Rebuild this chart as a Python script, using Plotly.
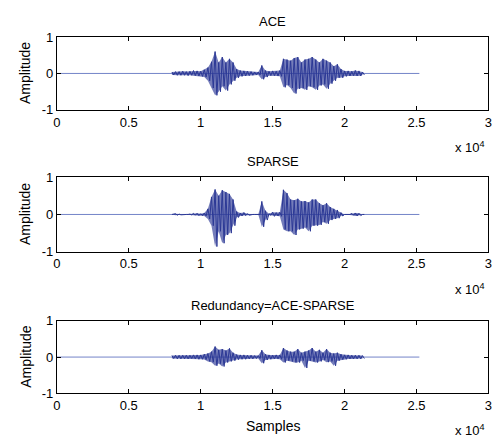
import plotly.graph_objects as go

# ---- data ----
# envelope bins: start sample of each 250-sample bin
bin_start = list(range(8000, 21500, 250))  # 54 bins
signal_end = 25200

ace_max = [0.04, 0.05, 0.05, 0.06, 0.05, 0.06, 0.08, 0.07, 0.06, 0.10,
           0.16, 0.32, 0.60, 0.30, 0.45, 0.30, 0.40, 0.30, 0.12, 0.08,
           0.07, 0.06, 0.05, 0.04, 0.04, 0.22, 0.08, 0.06, 0.07, 0.06,
           0.08, 0.40, 0.38, 0.35, 0.42, 0.45, 0.30, 0.38, 0.40, 0.45,
           0.38, 0.30, 0.40, 0.35, 0.30, 0.20, 0.25, 0.12, 0.07, 0.07,
           0.06, 0.08, 0.07, 0.04]
ace_min = [-0.04, -0.05, -0.05, -0.05, -0.06, -0.05, -0.06, -0.07, -0.08, -0.10,
           -0.20, -0.40, -0.60, -0.50, -0.35, -0.47, -0.30, -0.20, -0.12, -0.08,
           -0.07, -0.06, -0.05, -0.04, -0.04, -0.16, -0.10, -0.06, -0.06, -0.07,
           -0.08, -0.38, -0.32, -0.40, -0.55, -0.42, -0.40, -0.45, -0.35, -0.38,
           -0.45, -0.33, -0.30, -0.42, -0.28, -0.20, -0.12, -0.12, -0.08, -0.07,
           -0.06, -0.07, -0.07, -0.04]

sparse_max = [0.00, 0.02, 0.01, 0.00, 0.00, 0.01, 0.03, 0.03, 0.02, 0.04,
              0.15, 0.47, 0.67, 0.50, 0.65, 0.60, 0.55, 0.40, 0.08, 0.04,
              0.05, 0.02, 0.00, 0.00, 0.00, 0.35, 0.10, 0.02, 0.06, 0.05,
              0.06, 0.66, 0.57, 0.40, 0.38, 0.42, 0.35, 0.36, 0.32, 0.40,
              0.40, 0.30, 0.25, 0.30, 0.20, 0.15, 0.12, 0.05, 0.00, 0.00,
              0.03, 0.04, 0.03, 0.00]
sparse_min = [0.00, -0.02, -0.01, 0.00, 0.00, -0.01, -0.02, -0.03, -0.03, -0.04,
              -0.12, -0.30, -0.86, -0.45, -0.77, -0.55, -0.50, -0.30, -0.08, -0.04,
              -0.03, -0.02, 0.00, 0.00, 0.00, -0.33, -0.15, -0.02, -0.05, -0.04,
              -0.05, -0.40, -0.45, -0.45, -0.55, -0.40, -0.38, -0.35, -0.45, -0.30,
              -0.30, -0.28, -0.20, -0.25, -0.15, -0.12, -0.10, -0.04, 0.00, 0.00,
              -0.02, -0.04, -0.03, 0.00]

red_max = [0.04, 0.05, 0.05, 0.05, 0.05, 0.05, 0.06, 0.06, 0.06, 0.08,
           0.10, 0.15, 0.29, 0.20, 0.22, 0.18, 0.24, 0.12, 0.07, 0.06,
           0.06, 0.05, 0.05, 0.04, 0.04, 0.19, 0.08, 0.06, 0.05, 0.06,
           0.06, 0.25, 0.18, 0.15, 0.15, 0.22, 0.12, 0.15, 0.18, 0.25,
           0.15, 0.20, 0.12, 0.22, 0.12, 0.10, 0.12, 0.08, 0.06, 0.06,
           0.05, 0.05, 0.05, 0.04]
red_min = [-0.04, -0.05, -0.05, -0.05, -0.05, -0.04, -0.05, -0.06, -0.06, -0.07,
           -0.12, -0.14, -0.24, -0.18, -0.26, -0.15, -0.12, -0.10, -0.07, -0.06,
           -0.06, -0.05, -0.05, -0.04, -0.04, -0.17, -0.08, -0.06, -0.05, -0.05,
           -0.06, -0.15, -0.10, -0.12, -0.15, -0.15, -0.10, -0.30, -0.10, -0.12,
           -0.15, -0.12, -0.08, -0.14, -0.12, -0.24, -0.10, -0.07, -0.06, -0.05,
           -0.05, -0.05, -0.05, -0.04]

titles = ["ACE", "SPARSE", "Redundancy=ACE-SPARSE"]
x_tickvals = [0, 5000, 10000, 15000, 20000, 25000, 30000]
x_ticktext = ["0", "0.5", "1", "1.5", "2", "2.5", "3"]
y_tickvals = [-1, 0, 1]
y_ticktext = ["-1", "0", "1"]

series = [(ace_max, ace_min), (sparse_max, sparse_min), (red_max, red_min)]

# ---- layout geometry (pixels of the target picture) ----
W, H = 500, 448
x_left, x_right = 53.7, 492.3
boxes = [(31.0, 106.5), (176.0, 253.3), (324.7, 399.7)]  # (top, bottom) px


def px(v):
    return v / W


def py(v):
    return 1 - v / H


WAVE = "#2b3895"
FILL = "rgba(43,56,149,0.65)"
FLAT = "#7384c8"
FONT = "Liberation Sans, Arial, Helvetica, sans-serif"

fig = go.Figure()
layout = dict(
    width=W, height=H, margin=dict(l=0, r=0, t=0, b=0),
    paper_bgcolor="white", plot_bgcolor="white", showlegend=False,
    font=dict(family=FONT, size=13, color="black"),
)
annotations = []

for i, ((mx, mn), (top, bot)) in enumerate(zip(series, boxes)):
    xa = "x" if i == 0 else f"x{i+1}"
    ya = "y" if i == 0 else f"y{i+1}"
    fig.add_trace(go.Scatter(x=[0, signal_end], y=[0, 0], mode="lines",
                             line=dict(color=FLAT, width=1), xaxis=xa, yaxis=ya,
                             hoverinfo="skip"))
    fig.add_trace(go.Scatter(x=bin_start + bin_start[::-1], y=mx + mn[::-1],
                             mode="lines", fill="toself", fillcolor=FILL,
                             line=dict(width=0), xaxis=xa, yaxis=ya,
                             hoverinfo="skip"))
    xs, ys = [], []
    for s, a, b in zip(bin_start, mx, mn):
        xs += [s, s + 125]
        ys += [a, b]
    fig.add_trace(go.Scatter(x=xs, y=ys, mode="lines",
                             line=dict(color=WAVE, width=1), xaxis=xa, yaxis=ya))
    ax_common = dict(showline=True, linecolor="black", linewidth=1, mirror="ticks",
                     ticks="inside", ticklen=4, tickcolor="black", showgrid=False,
                     zeroline=False, tickfont=dict(family=FONT, size=13, color="black"))
    layout["xaxis" if i == 0 else f"xaxis{i+1}"] = dict(
        domain=[px(x_left), px(x_right)], range=[0, 30000], anchor=ya,
        tickvals=x_tickvals, ticktext=x_ticktext, **ax_common)
    layout["yaxis" if i == 0 else f"yaxis{i+1}"] = dict(
        domain=[py(bot), py(top)], range=[-1, 1], anchor=xa,
        tickvals=y_tickvals, ticktext=y_ticktext, **ax_common)
    annotations.append(dict(text=titles[i], x=px((x_left + x_right) / 2),
                            y=py(top - 16), xref="paper", yref="paper",
                            xanchor="center", yanchor="middle", showarrow=False,
                            font=dict(size=13)))
    annotations.append(dict(text="Amplitude", x=px(22), y=py((top + bot) / 2),
                            xref="paper", yref="paper", xanchor="center",
                            yanchor="middle", textangle=-90, showarrow=False,
                            font=dict(size=14)))
    annotations.append(dict(text="x 10<sup>4</sup>", x=px(491), y=py(bot + 38),
                            xref="paper", yref="paper", xanchor="right",
                            yanchor="middle", showarrow=False, font=dict(size=13)))

annotations.append(dict(text="Samples", x=px((x_left + x_right) / 2), y=py(433),
                        xref="paper", yref="paper", xanchor="center", yanchor="middle",
                        showarrow=False, font=dict(size=14)))
layout["annotations"] = annotations
fig.update_layout(**layout)
fig.write_html(
    "out.html",
    config={"displayModeBar": False},
    post_script="document.body.style.margin='0';document.body.style.padding='0';"
                "document.body.style.overflow='hidden';",
)
